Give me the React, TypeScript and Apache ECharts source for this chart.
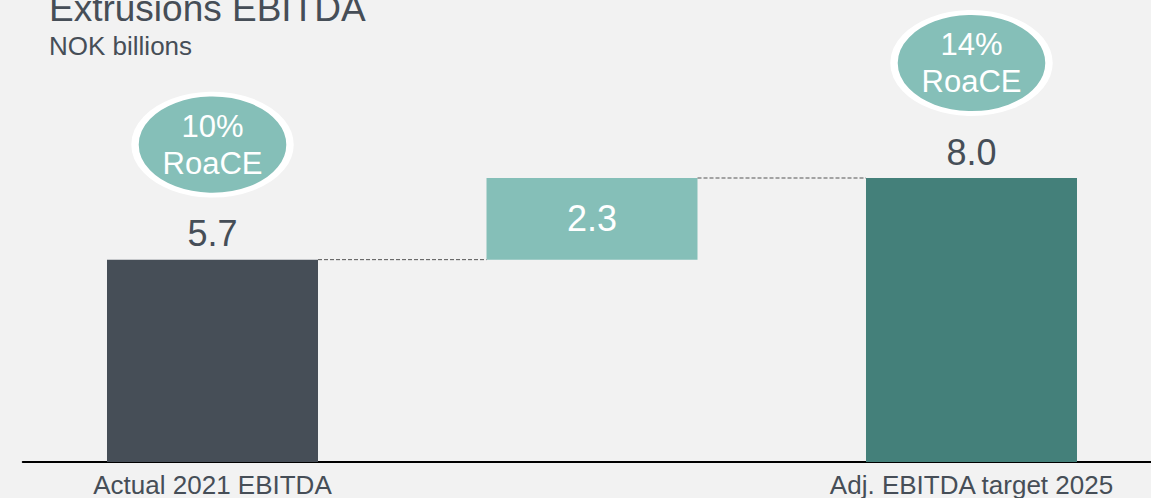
import React, { useEffect, useRef } from "react";
import * as echarts from "echarts";

const categories = ["Actual 2021 EBITDA", "", "Adj. EBITDA target 2025"];
const baseValues = [0, 5.7, 0];
const barValues = [5.7, 2.3, 8.0];
const barColors = ["#464e57", "#85bfb8", "#44807a"];
const connectorStarts = [0, 1];
const connectorLevels = [5.7, 8.0];
const roaceIndex = [0, 2];
const roaceLevels = [5.7, 8.0];
const roaceLabels = ["10%", "14%"];

const FONT = "'Liberation Sans', Arial, sans-serif";
const TEXT = "#464e57";
const BAR_FRAC = 0.556;

export default function App() {
  const ref = useRef<HTMLDivElement>(null);
  useEffect(() => {
    if (!ref.current) return;
    const chart = echarts.init(ref.current, undefined, { renderer: "svg" });
    chart.setOption({
      animation: false,
      backgroundColor: "#f2f2f2",
      textStyle: { fontFamily: FONT },
      grid: { left: 22.75, right: 0.75, top: 36, bottom: 35.5 },
      graphic: [
        {
          type: "text",
          style: {
            text: "Extrusions EBITDA",
            x: 49,
            y: 8.5,
            fontSize: 37,
            fontFamily: FONT,
            fill: TEXT,
            verticalAlign: "middle",
            align: "left",
          },
        },
        {
          type: "text",
          style: {
            text: "NOK billions",
            x: 49,
            y: 46,
            fontSize: 26,
            fontFamily: FONT,
            fill: TEXT,
            verticalAlign: "middle",
            align: "left",
          },
        },
      ],
      xAxis: {
        type: "category",
        data: categories,
        axisLine: { show: true, lineStyle: { color: "#000", width: 2 } },
        axisTick: { show: false },
        axisLabel: {
          color: TEXT,
          fontSize: 26,
          lineHeight: 26,
          margin: 10,
          fontFamily: FONT,
          interval: 0,
        },
      },
      yAxis: {
        type: "value",
        min: 0,
        max: 12,
        show: false,
        splitLine: { show: false },
      },
      series: [
        {
          type: "bar",
          stack: "wf",
          data: baseValues,
          barWidth: BAR_FRAC * 100 + "%",
          itemStyle: { color: "transparent" },
          silent: true,
        },
        {
          type: "bar",
          stack: "wf",
          barWidth: BAR_FRAC * 100 + "%",
          data: barValues.map((v, i) => ({
            value: v,
            itemStyle: { color: barColors[i] },
            label:
              i === 1
                ? {
                    show: true,
                    position: "inside",
                    color: "#fff",
                    fontSize: 36,
                    lineHeight: 36,
                    fontFamily: FONT,
                    formatter: (p: any) => Number(p.value).toFixed(1),
                  }
                : {
                    show: true,
                    position: "top",
                    distance: 8,
                    color: TEXT,
                    fontSize: 36,
                    lineHeight: 36,
                    fontFamily: FONT,
                    formatter: (p: any) => Number(p.value).toFixed(1),
                  },
          })),
        },
        {
          type: "custom",
          data: connectorStarts.map((s, i) => [s, connectorLevels[i]]),
          z: 3,
          renderItem: (params: any, api: any) => {
            const idx = api.value(0);
            const val = api.value(1);
            const p1 = api.coord([idx, val]);
            const p2 = api.coord([idx + 1, val]);
            const w = api.size([1, 0])[0] * BAR_FRAC;
            return {
              type: "line",
              shape: { x1: p1[0] + w / 2, y1: p1[1], x2: p2[0] - w / 2, y2: p2[1] },
              style: { stroke: "#555", lineWidth: 1, lineDash: [4, 2] },
            };
          },
        },
        {
          type: "scatter",
          z: 5,
          data: roaceIndex.map((c, i) => [c, roaceLevels[i], roaceLabels[i]]),
          symbol: "circle",
          symbolSize: [155, 101],
          symbolOffset: [0, -115],
          itemStyle: { color: "#85bfb8", borderColor: "#ffffff", borderWidth: 6, opacity: 1 },
          label: {
            show: true,
            position: "inside",
            color: "#fff",
            fontSize: 31,
            lineHeight: 37,
            fontFamily: FONT,
            formatter: (p: any) => p.value[2] + "\nRoaCE",
          },
        },
      ],
    });
    return () => chart.dispose();
  }, []);
  return (
    <div style={{ position: "fixed", left: 0, top: 0, width: 1151, height: 498, overflow: "hidden", background: "#f2f2f2" }}>
      <div ref={ref} style={{ width: 1162, height: 498 }} />
    </div>
  );
}
